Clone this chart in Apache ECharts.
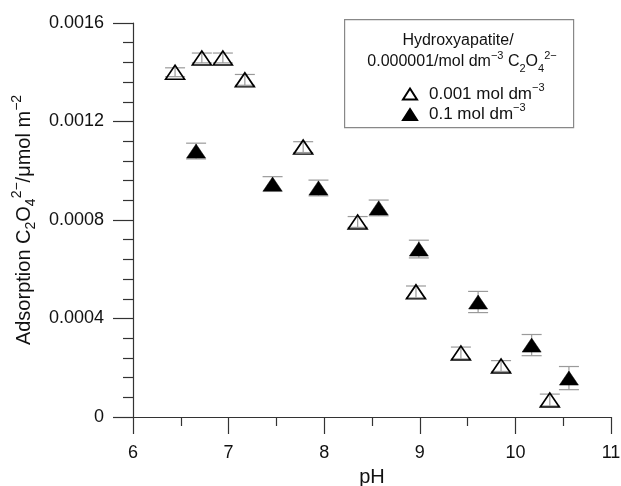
<!DOCTYPE html>
<html>
<head>
<meta charset="utf-8">
<script src="https://cdn.jsdelivr.net/npm/echarts@6/dist/echarts.min.js"></script>
<style>
  html, body { margin: 0; padding: 0; background: #fff; }
  #chart { width: 621px; height: 486px; }
</style>
</head>
<body>
<div id="chart"></div>
<script>
// 0.001 mol dm-3 (open triangles)
var pHOpen = [6.44, 6.72, 6.94, 7.17, 7.78, 8.35, 8.96, 9.43, 9.85, 10.36];
var adsOpen = [0.00140, 0.001458, 0.001458, 0.001369, 0.001096, 0.000792, 0.000508, 0.00026, 0.000207, 0.000069];
var errOpen = [0.000018, 0.00002, 0.00002, 0.000022, 0.000022, 0.000022, 0.000024, 0.000024, 0.000022, 0.000024];
// 0.1 mol dm-3 (filled triangles)
var pHFilled = [6.66, 7.46, 7.94, 8.57, 8.99, 9.61, 10.17, 10.56];
var adsFilled = [0.00108, 0.000946, 0.00093, 0.000849, 0.000682, 0.000467, 0.000292, 0.000158];
var errFilled = [0.000032, 0.00003, 0.000032, 0.000032, 0.000036, 0.000043, 0.000043, 0.000047];

var xTickLabels = ['6', '7', '8', '9', '10', '11'];
var yTickLabels = ['0', '0.0004', '0.0008', '0.0012', '0.0016'];

var FONT = '"Liberation Sans", Arial, sans-serif';

function pairs(xs, ys) {
    var out = [];
    for (var i = 0; i < xs.length; i++) out.push([xs[i], ys[i]]);
    return out;
}
function errRows(xs, ys, es) {
    var out = [];
    for (var i = 0; i < xs.length; i++) out.push([xs[i], ys[i] - es[i], ys[i] + es[i]]);
    return out;
}

function renderErr(params, api) {
    var lo = api.coord([api.value(0), api.value(1)]);
    var hi = api.coord([api.value(0), api.value(2)]);
    var w = 10;
    var st = { stroke: '#9a9a9a', lineWidth: 1.2 };
    return {
        type: 'group',
        children: [
            { type: 'line', shape: { x1: lo[0], y1: lo[1], x2: hi[0], y2: hi[1] }, style: st },
            { type: 'line', shape: { x1: lo[0] - w, y1: lo[1], x2: lo[0] + w, y2: lo[1] }, style: st },
            { type: 'line', shape: { x1: hi[0] - w, y1: hi[1], x2: hi[0] + w, y2: hi[1] }, style: st }
        ]
    };
}

var subsup = {
    n: { fontSize: 17, lineHeight: 24, verticalAlign: 'middle', fontFamily: FONT, color: '#111' },
    sup: { fontSize: 11, lineHeight: 12, verticalAlign: 'top', fontFamily: FONT, color: '#111' },
    sub: { fontSize: 11, lineHeight: 12, verticalAlign: 'bottom', fontFamily: FONT, color: '#111' }
};
var yNameRich = {
    n: { fontSize: 20, lineHeight: 28, verticalAlign: 'middle', fontFamily: FONT, color: '#111' },
    sup: { fontSize: 14, lineHeight: 14, verticalAlign: 'top', fontFamily: FONT, color: '#111' },
    sub: { fontSize: 14, lineHeight: 14, verticalAlign: 'bottom', fontFamily: FONT, color: '#111' }
};
var legendNames = {
    '0.001 mol dm-3': '{n|0.001 mol dm}{sup|−3}',
    '0.1 mol dm-3': '{n|0.1 mol dm}{sup|−3}'
};

var chart = echarts.init(document.getElementById('chart'));
chart.setOption({
    animation: false,
    backgroundColor: '#fff',
    grid: { left: 133, right: 10, top: 23, bottom: 69, containLabel: false, outerBoundsMode: 'none' },
    xAxis: {
        type: 'value', min: 6, max: 11, interval: 1,
        name: 'pH', nameLocation: 'middle', nameGap: 50,
        nameTextStyle: { fontSize: 20, fontFamily: FONT, color: '#111' },
        axisLine: { lineStyle: { color: '#333', width: 1.2 } },
        axisTick: { show: true, inside: false, length: 17, lineStyle: { color: '#333', width: 1.2 } },
        minorTick: { show: true, splitNumber: 2, length: 9, lineStyle: { color: '#333', width: 1.2 } },
        axisLabel: {
            margin: 27, fontSize: 18, fontFamily: FONT, color: '#111',
            formatter: function (v) { return xTickLabels[Math.round(v - 6)]; }
        },
        splitLine: { show: false }
    },
    yAxis: {
        type: 'value', min: 0, max: 0.0016, interval: 0.0004,
        name: '{n|Adsorption C}{sub|2}{n|O}{sub|4}{sup|2−}{n|/μmol m}{sup|−2}',
        nameLocation: 'middle', nameGap: 94, nameRotate: 90,
        nameTextStyle: { rich: yNameRich },
        axisLine: { show: true, lineStyle: { color: '#333', width: 1.2 } },
        axisTick: { show: true, inside: false, length: 20, lineStyle: { color: '#333', width: 1.2 } },
        minorTick: { show: true, splitNumber: 5, length: 10, lineStyle: { color: '#333', width: 1.2 } },
        axisLabel: {
            margin: 29, fontSize: 18, fontFamily: FONT, color: '#111',
            formatter: function (v) { return yTickLabels[Math.round(v / 0.0004)]; }
        },
        splitLine: { show: false }
    },
    legend: {
        orient: 'vertical', left: 397, top: 77, itemGap: 0,
        itemWidth: 14, itemHeight: 11,
        data: ['0.001 mol dm-3', '0.1 mol dm-3'],
        formatter: function (name) { return legendNames[name]; },
        textStyle: { rich: subsup, padding: [0, 0, 0, 7] }
    },
    graphic: [
        {
            type: 'rect', left: 344, top: 19, z: 10,
            shape: { width: 229, height: 108 },
            style: { fill: 'rgba(0,0,0,0)', stroke: '#888', lineWidth: 1.2 }
        },
        {
            type: 'text', z: 11,
            style: {
                x: 458, y: 41, align: 'center', verticalAlign: 'middle',
                text: '{n|Hydroxyapatite/}',
                rich: { n: { fontSize: 16, fontFamily: FONT, fill: '#111' } }
            }
        },
        {
            type: 'text', z: 11,
            style: {
                x: 462, y: 62, align: 'center', verticalAlign: 'middle',
                text: '{n|0.000001/mol dm}{sup|−3}{n| C}{sub|2}{n|O}{sub|4}{sup|2−}',
                rich: {
                    n: { fontSize: 16, lineHeight: 24, verticalAlign: 'middle', fontFamily: FONT, fill: '#111' },
                    sup: { fontSize: 11, lineHeight: 12, verticalAlign: 'top', fontFamily: FONT, fill: '#111' },
                    sub: { fontSize: 11, lineHeight: 12, verticalAlign: 'bottom', fontFamily: FONT, fill: '#111' }
                }
            }
        }
    ],
    series: [
        {
            type: 'custom', name: 'err-open', renderItem: renderErr, z: 1,
            data: errRows(pHOpen, adsOpen, errOpen), encode: { x: 0, y: [1, 2] }, silent: true
        },
        {
            type: 'custom', name: 'err-filled', renderItem: renderErr, z: 1,
            data: errRows(pHFilled, adsFilled, errFilled), encode: { x: 0, y: [1, 2] }, silent: true
        },
        {
            type: 'scatter', name: '0.001 mol dm-3', symbol: 'triangle', symbolSize: [19, 14], z: 3,
            itemStyle: { color: 'rgba(255,255,255,0)', borderColor: '#000', borderWidth: 1.6, opacity: 1 },
            data: pairs(pHOpen, adsOpen)
        },
        {
            type: 'scatter', name: '0.1 mol dm-3', symbol: 'triangle', symbolSize: [19, 14], z: 3,
            itemStyle: { color: '#000', borderColor: '#000', borderWidth: 0.5, opacity: 1 },
            data: pairs(pHFilled, adsFilled)
        }
    ]
});
</script>
</body>
</html>
